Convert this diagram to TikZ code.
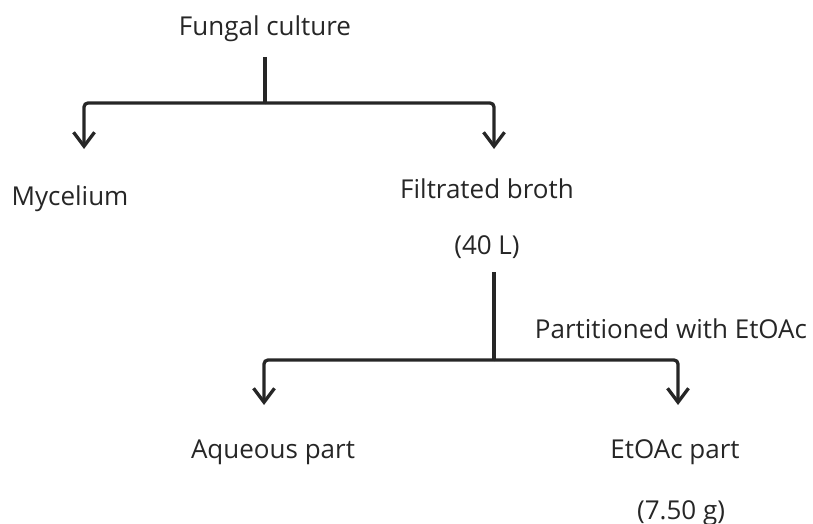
\documentclass[tikz,border=0pt]{standalone}
\usepackage{fontspec}
\setmainfont{Open Sans}
\usetikzlibrary{arrows.meta}
\usetikzlibrary{positioning}
\begin{document}
\begin{tikzpicture}[x=1pt, y=-1pt, line width=3.3pt]
  \tikzstyle{every node}=[font=\fontsize{26}{31}\selectfont, anchor=base, inner sep=0pt, text=black!85]
  \tikzstyle{branch}=[draw=black!85, rounded corners=4pt]
  \tikzstyle{down}=[branch, -{Straight Barb[length=14pt,width=21pt]}]
  \useasboundingbox (0,0) rectangle (813,524);
  \node (culture) at (265,36) {Fungal culture};
  \node (mycelium) at (70,205) {Mycelium};
  \node (broth) at (487,198) {Filtrated broth};
  \node (vol) at (487,254) {(40 L)};
  \node (part) at (671,338) {Partitioned with EtOAc};
  \node (aqueous) at (273,458) {Aqueous part};
  \node (etoac) at (675,458) {EtOAc part};
  \node (mass) at (681,519) {(7.50 g)};
  % junctions and arrow ends
  \coordinate (top1) at (265,57);
  \coordinate (j1) at (265,103);
  \coordinate (myc-in) at (84,149);
  \coordinate (bro-in) at (494,149);
  \coordinate (top2) at (494,272);
  \coordinate (j2) at (494,360);
  \coordinate (aq-in) at (264,405);
  \coordinate (et-in) at (678,405);
  \draw[branch] (top1) -- (j1);
  \draw[down] (j1) -| (myc-in);
  \draw[down] (j1) -| (bro-in);
  \draw[branch] (top2) -- (j2);
  \draw[down] (j2) -| (aq-in);
  \draw[down] (j2) -| (et-in);
\end{tikzpicture}
\end{document}
